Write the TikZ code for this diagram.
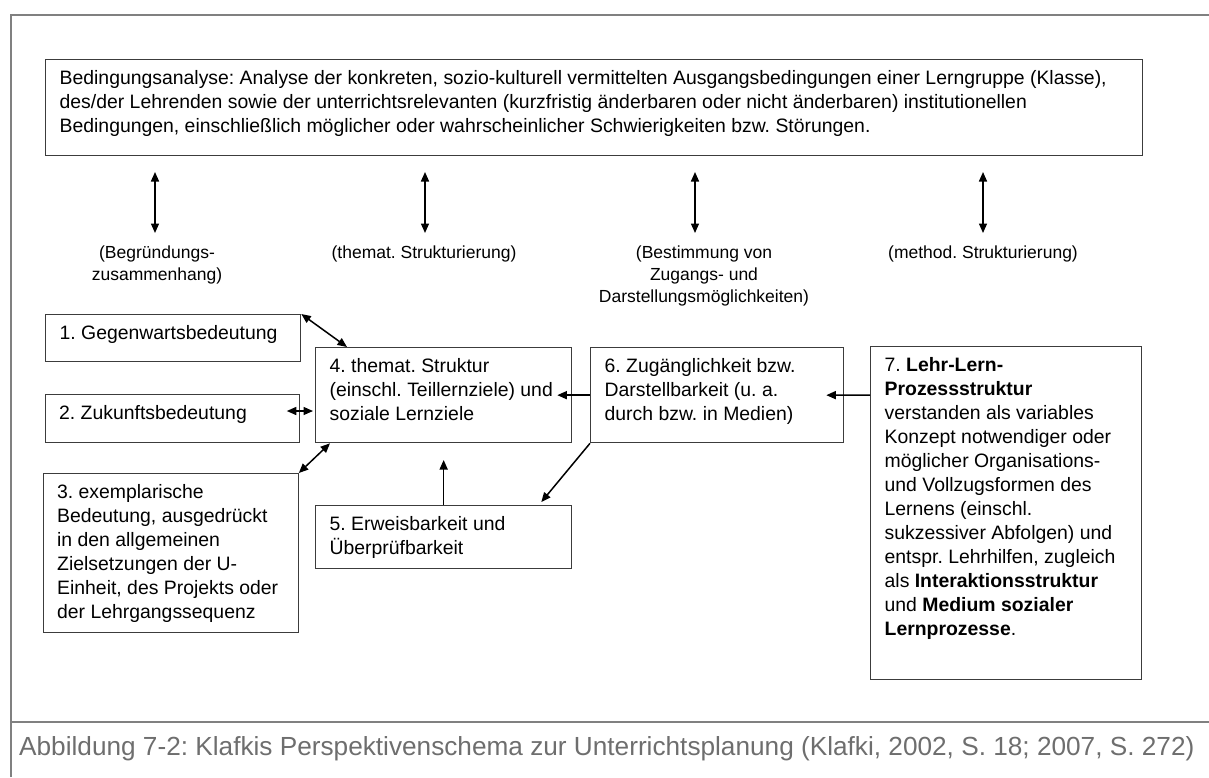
\documentclass[tikz,border=0pt]{standalone}
\usepackage{fontspec}
\setmainfont{Liberation Sans}
\usetikzlibrary{arrows.meta,calc}
\frenchspacing

\definecolor{framegray}{HTML}{808080}
\definecolor{captiongray}{HTML}{6E6E6E}
\definecolor{boxline}{HTML}{3C3C3C}

% text block of a box: fixed width and height, lines start at the top
\newcommand{\boxbody}[3]{\parbox[t][#2][t]{#1}{\raggedright\strut #3}}
% centred label under a perspective arrow
\newcommand{\labelbody}[2]{\parbox[t]{#1}{\centering\strut #2}}

\tikzset{
  frameline/.style={draw=framegray, line width=2.2pt},
  stage/.style={draw=boxline, line width=1.3pt, anchor=north west,
    inner xsep=14pt, inner ysep=8.2pt, font=\fontsize{19.4}{24}\selectfont},
  persp/.style={anchor=base, inner sep=0pt, font=\fontsize{17.5}{22}\selectfont},
  link/.style={line width=1.5pt, -{Triangle[length=9.5pt,width=8pt]}},
  dlink/.style={line width=1.5pt,
    {Triangle[length=9.5pt,width=8pt]}-{Triangle[length=9.5pt,width=8pt]}},
}

\begin{document}
\begin{tikzpicture}[x=1pt,y=-1pt]
\useasboundingbox (0,0) rectangle (1209,777);

% outer frame and caption rule
\draw[frameline] (11,777) -- (11,15) -- (1209,15);
\draw[frameline] (11,722) -- (1209,722);

% condition analysis
\node[stage] (cond) at (45,59) {\boxbody{1069pt}{79.6pt}{%
Bedingungsanalyse: Analyse der konkreten, sozio-kulturell vermittelten Ausgangsbedingungen einer Lerngruppe (Klasse),\\
des/der Lehrenden sowie der unterrichtsrelevanten (kurzfristig änderbaren oder nicht änderbaren) institutionellen\\
Bedingungen, einschließlich möglicher oder wahrscheinlicher Schwierigkeiten bzw. Störungen.}};

% perspectives
\coordinate (a1t) at (155,172); \coordinate (a1b) at (155,233);
\coordinate (a2t) at (425,172); \coordinate (a2b) at (425,233);
\coordinate (a3t) at (695,172); \coordinate (a3b) at (695,233);
\coordinate (a4t) at (983,172); \coordinate (a4b) at (983,233);
\draw[dlink] (a1t) -- (a1b);
\draw[dlink] (a2t) -- (a2b);
\draw[dlink] (a3t) -- (a3b);
\draw[dlink] (a4t) -- (a4b);

\node[persp] (p1) at (157,258) {\labelbody{200pt}{(Begründungs-\\zusammenhang)}};
\node[persp] (p2) at (424,258) {\labelbody{250pt}{(themat. Strukturierung)}};
\node[persp] (p3) at (704,258) {\labelbody{260pt}{(Bestimmung von\\Zugangs- und\\Darstellungsmöglichkeiten)}};
\node[persp] (p4) at (983,258) {\labelbody{250pt}{(method. Strukturierung)}};

% planning questions
\node[stage] (b1) at (45,314) {\boxbody{227pt}{30.6pt}{1. Gegenwartsbedeutung}};
\node[stage] (b2) at (44.5,394) {\boxbody{226pt}{31.6pt}{2. Zukunftsbedeutung}};
\node[stage] (b3) at (42.5,473) {\boxbody{227pt}{142.6pt}{%
3. exemplarische\\
Bedeutung, ausgedrückt\\
in den allgemeinen\\
Zielsetzungen der U-\\
Einheit, des Projekts oder\\
der Lehrgangssequenz}};
\node[stage] (b4) at (315,347) {\boxbody{228pt}{78.6pt}{%
4. themat. Struktur\\
(einschl. Teillernziele) und\\
soziale Lernziele}};
\node[stage] (b5) at (315,505) {\boxbody{228pt}{46.6pt}{%
5. Erweisbarkeit und\\
Überprüfbarkeit}};
\node[stage] (b6) at (590,347) {\boxbody{225pt}{78.6pt}{%
6. Zugänglichkeit bzw.\\
Darstellbarkeit (u. a.\\
durch bzw. in Medien)}};
\node[stage] (b7) at (870,346) {\boxbody{243pt}{316.6pt}{%
7. \textbf{Lehr-Lern-}\\
\textbf{Prozessstruktur}\\
verstanden als variables\\
Konzept notwendiger oder\\
möglicher Organisations-\\
und Vollzugsformen des\\
Lernens (einschl.\\
sukzessiver Abfolgen) und\\
entspr. Lehrhilfen, zugleich\\
als \textbf{Interaktionsstruktur}\\
und \textbf{Medium sozialer}\\
\textbf{Lernprozesse}.}};

% connections
\draw[dlink] (b1.north east) -- ($(b4.north west)+(32,0)$);
\draw[dlink] ($(b2.north east)+(-13,17)$) -- ($(b4.north west)+(-2,64)$);
\draw[dlink] (b3.north east) -- ($(b4.south west)+(15,0)$);
\draw[link] (b5.north) -- ($(b5.north)+(0,-45)$);
\draw[link] (b6.west) -- ($(b4.east)+(-15,0)$);
\draw[link] (b6.south west) -- ($(b5.north east)+(-31,-3)$);
\draw[link] ($(b7.north west)+(0,49)$) -- ($(b6.east)+(-18,0)$);

% caption
\node[anchor=base west, inner sep=0pt, text=captiongray,
  font=\fontsize{26.2}{30}\selectfont] (caption) at (19,755)
  {Abbildung 7-2: Klafkis Perspektivenschema zur Unterrichtsplanung (Klafki, 2002, S. 18; 2007, S. 272)};
\end{tikzpicture}
\end{document}
